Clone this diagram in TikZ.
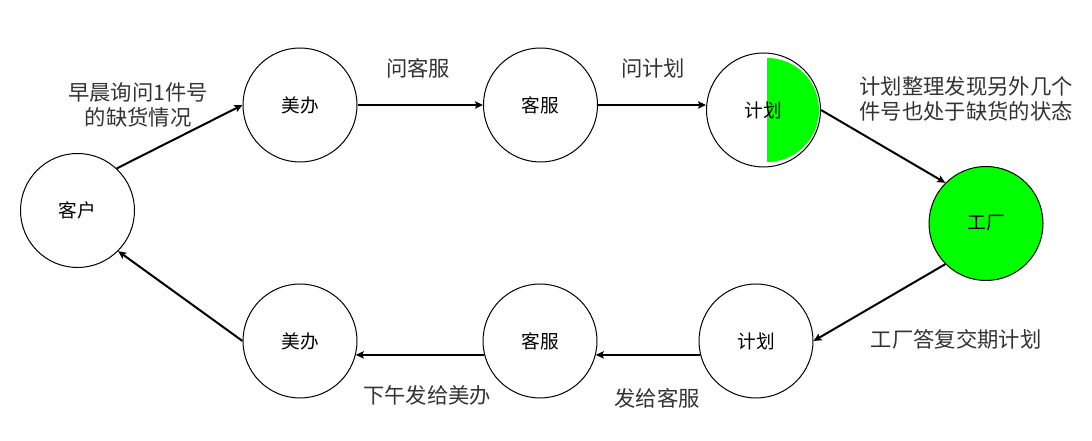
\documentclass[tikz,border=0pt]{standalone}
\usepackage{fontspec}
\setmainfont{Noto Sans CJK SC}
\usetikzlibrary{arrows.meta}
\definecolor{vivid}{RGB}{0,255,0}
\begin{document}
\begin{tikzpicture}[x=0.75pt,y=0.75pt,
        state/.style={draw,circle,line width=0.75pt,minimum size=85.5pt,inner sep=0pt,font=\fontsize{14}{16}\selectfont},
        flow/.style={-{Stealth[length=6pt,width=5.5pt,inset=1.2pt]},line width=1.5pt},
        lbl/.style={text=black!80,align=center,font=\fontsize{16}{18.75}\selectfont}]
        \useasboundingbox (0,0) rectangle (1092,441);
        \fill[vivid] (767,279) arc[start angle=-90,end angle=90,radius=52] -- cycle;
        \node[state] (kh) at (77.5,230.5) {客户};
        \node[state] (mb1) at (300,336) {美办};
        \node[state] (kf1) at (540.5,336) {客服};
        \node[state] (jh1) at (763.5,331) {计划};
        \node[state,fill=vivid] (gc) at (986,217.5) {工厂};
        \node[state] (jh2) at (756,100) {计划};
        \node[state] (kf2) at (540,100) {客服};
        \node[state] (mb2) at (300,100) {美办};
        \draw[flow] (kh.47) -- (mb1.west);
        \draw[flow] (mb1.east) -- (kf1.west);
        \draw[flow] (kf1.east) -- (jh1.west |- kf1.east);
        \draw[flow] (jh1.east) -- (gc.135);
        \draw[flow] (gc.225) -- (jh2.east);
        \draw[flow] (jh2.194) -- (kf2.-14);
        \draw[flow] (kf2.194) -- (mb2.-14);
        \draw[flow] (mb2.west) -- (kh.-45);
        \node[lbl] (t1) at (138,336.5) {早晨询问1件号\\的缺货情况};
        \node[lbl] (t2) at (418,373) {问客服};
        \node[lbl] (t3) at (653,373) {问计划};
        \node[lbl,align=left] (t4) at (966,342.5) {计划整理发现另外几个\\件号也处于缺货的状态};
        \node[lbl] (t5) at (956,102) {工厂答复交期计划};
        \node[lbl] (t6) at (427,46) {下午发给美办};
        \node[lbl] (t7) at (657,43) {发给客服};
\end{tikzpicture}
\end{document}
